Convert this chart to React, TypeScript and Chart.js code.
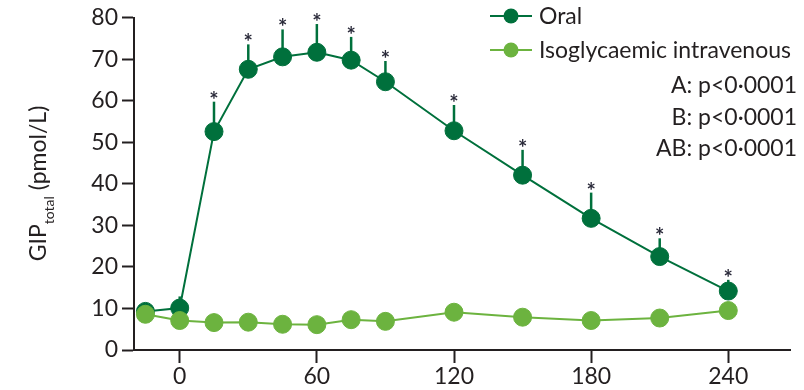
import React, { useEffect, useRef } from "react";
import { Chart, registerables } from "chart.js";

Chart.register(...registerables);

const timePoints = [-15, 0, 15, 30, 45, 60, 75, 90, 120, 150, 180, 210, 240];
const oralValues = [9.3, 10.1, 52.6, 67.6, 70.6, 71.7, 69.8, 64.6, 52.8, 42.1, 31.7, 22.5, 14.2];
const oralErrors = [1.8, 2.8, 7.2, 6.0, 6.6, 6.8, 5.6, 5.0, 6.2, 6.1, 6.2, 4.4, 2.7];
const oralSignificant = [false, false, true, true, true, true, true, true, true, true, true, true, true];
const ivValues = [8.6, 7.1, 6.6, 6.7, 6.2, 6.1, 7.3, 6.9, 9.1, 7.9, 7.1, 7.7, 9.5];
const xTickValues = [0, 60, 120, 180, 240];
const seriesLabels = ["Oral", "Isoglycaemic intravenous"];
const statLines = ["A: p<0·0001", "B: p<0·0001", "AB: p<0·0001"];
const yTitleParts = ["GIP", "total", " (pmol/L)"];

const DARK = "#00703c";
const LIGHT = "#6cb33f";
const INK = "#231f20";
const FONT = "Lato";
const FS = 23;

const errorBarPlugin = {
  id: "errorBars",
  beforeDatasetsDraw(chart: any) {
    const ctx = chart.ctx;
    const xs = chart.scales.x;
    const ys = chart.scales.y;
    ctx.save();
    ctx.strokeStyle = DARK;
    ctx.lineWidth = 2.5;
    timePoints.forEach((t, i) => {
      const x = xs.getPixelForValue(t);
      const y0 = ys.getPixelForValue(oralValues[i]);
      const y1 = ys.getPixelForValue(oralValues[i] + oralErrors[i]);
      ctx.beginPath();
      ctx.moveTo(x, y0);
      ctx.lineTo(x, y1);
      ctx.stroke();
    });
    ctx.restore();
  },
};

const annotationPlugin = {
  id: "annotations",
  afterDraw(chart: any) {
    const ctx = chart.ctx;
    const xs = chart.scales.x;
    const ys = chart.scales.y;
    ctx.save();
    // asterisks
    ctx.fillStyle = "#2a2a3a";
    ctx.font = `bold 22px ${FONT}`;
    ctx.textAlign = "center";
    ctx.textBaseline = "alphabetic";
    const m = ctx.measureText("*");
    const asc = m.actualBoundingBoxAscent;
    const desc = m.actualBoundingBoxDescent;
    timePoints.forEach((t, i) => {
      if (!oralSignificant[i]) return;
      const x = xs.getPixelForValue(t);
      const top = ys.getPixelForValue(oralValues[i] + oralErrors[i]);
      const cy = top - 7;
      ctx.fillText("*", x, cy + (asc - desc) / 2);
    });

    // legend
    const legendColors = [DARK, LIGHT];
    const legendY = [16, 50];
    legendColors.forEach((c, i) => {
      ctx.strokeStyle = c;
      ctx.lineWidth = 2;
      ctx.beginPath();
      ctx.moveTo(490, legendY[i]);
      ctx.lineTo(532, legendY[i]);
      ctx.stroke();
      ctx.fillStyle = c;
      ctx.beginPath();
      ctx.arc(511, legendY[i], 7.5, 0, Math.PI * 2);
      ctx.fill();
      ctx.fillStyle = INK;
      ctx.font = `${FS}px ${FONT}`;
      ctx.textAlign = "left";
      ctx.textBaseline = "middle";
      ctx.fillText(seriesLabels[i], 539, legendY[i] + 1);
    });

    // stats
    ctx.textAlign = "right";
    ctx.textBaseline = "alphabetic";
    ctx.font = `${FS}px ${FONT}`;
    const statBase = [93, 124.5, 156];
    statLines.forEach((s, i) => ctx.fillText(s, 797, statBase[i]));

    // y title
    ctx.translate(46, 183.5);
    ctx.rotate(-Math.PI / 2);
    ctx.textAlign = "left";
    ctx.textBaseline = "alphabetic";
    ctx.font = `${FS}px ${FONT}`;
    const w0 = ctx.measureText(yTitleParts[0]).width;
    const w2 = ctx.measureText(yTitleParts[2]).width;
    ctx.font = `14px ${FONT}`;
    const w1 = ctx.measureText(yTitleParts[1]).width;
    let x = -(w0 + w1 + w2) / 2;
    ctx.font = `${FS}px ${FONT}`;
    ctx.fillText(yTitleParts[0], x, 0);
    x += w0;
    ctx.font = `14px ${FONT}`;
    ctx.fillText(yTitleParts[1], x, 8);
    x += w1;
    ctx.font = `${FS}px ${FONT}`;
    ctx.fillText(yTitleParts[2], x, 0);
    ctx.restore();
  },
};

export default function App() {
  const ref = useRef<HTMLCanvasElement>(null);
  useEffect(() => {
    if (!ref.current) return;
    const chart = new Chart(ref.current, {
      type: "line",
      data: {
        datasets: [
          {
            label: seriesLabels[0],
            data: timePoints.map((t, i) => ({ x: t, y: oralValues[i] })),
            borderColor: DARK,
            backgroundColor: DARK,
            borderWidth: 2,
            pointRadius: 9,
            pointBorderWidth: 1,
            pointBackgroundColor: DARK,
            pointBorderColor: DARK,
            tension: 0,
            order: 1,
          },
          {
            label: seriesLabels[1],
            data: timePoints.map((t, i) => ({ x: t, y: ivValues[i] })),
            borderColor: LIGHT,
            backgroundColor: LIGHT,
            borderWidth: 2,
            pointRadius: 9,
            pointBorderWidth: 1,
            pointBackgroundColor: LIGHT,
            pointBorderColor: LIGHT,
            tension: 0,
            order: 0,
          },
        ],
      },
      options: {
        responsive: false,
        animation: false,
        devicePixelRatio: 1,
        layout: { padding: { top: 17, right: 14, left: 0, bottom: 0 } },
        plugins: { legend: { display: false }, tooltip: { enabled: false } },
        scales: {
          x: {
            type: "linear",
            min: -20,
            max: 267,
            afterBuildTicks: (axis: any) => {
              axis.ticks = xTickValues.map((v) => ({ value: v }));
            },
            afterFit: (scale: any) => {
              scale.height = 40;
            },
            border: { display: true, color: INK, width: 2 },
            grid: {
              display: true,
              drawOnChartArea: false,
              drawTicks: true,
              tickLength: 13,
              tickWidth: 2,
              tickColor: INK,
            },
            ticks: {
              font: { family: FONT, size: FS },
              color: INK,
              padding: 0,
              maxRotation: 0,
              autoSkip: false,
            },
          },
          y: {
            type: "linear",
            min: 0,
            max: 80,
            afterFit: (scale: any) => {
              scale.width = 134;
            },
            border: { display: true, color: INK, width: 2 },
            grid: {
              display: true,
              drawOnChartArea: false,
              drawTicks: true,
              tickLength: 12,
              tickWidth: 2,
              tickColor: INK,
            },
            ticks: {
              stepSize: 10,
              font: { family: FONT, size: FS },
              color: INK,
              padding: 4,
            },
          },
        },
      },
      plugins: [errorBarPlugin, annotationPlugin],
    } as any);
    return () => chart.destroy();
  }, []);
  return (
    <div style={{ position: "absolute", left: 0, top: 0, width: 804, height: 390, background: "#fff" }}>
      <canvas ref={ref} width={804} height={390} style={{ width: 804, height: 390 }} />
    </div>
  );
}
